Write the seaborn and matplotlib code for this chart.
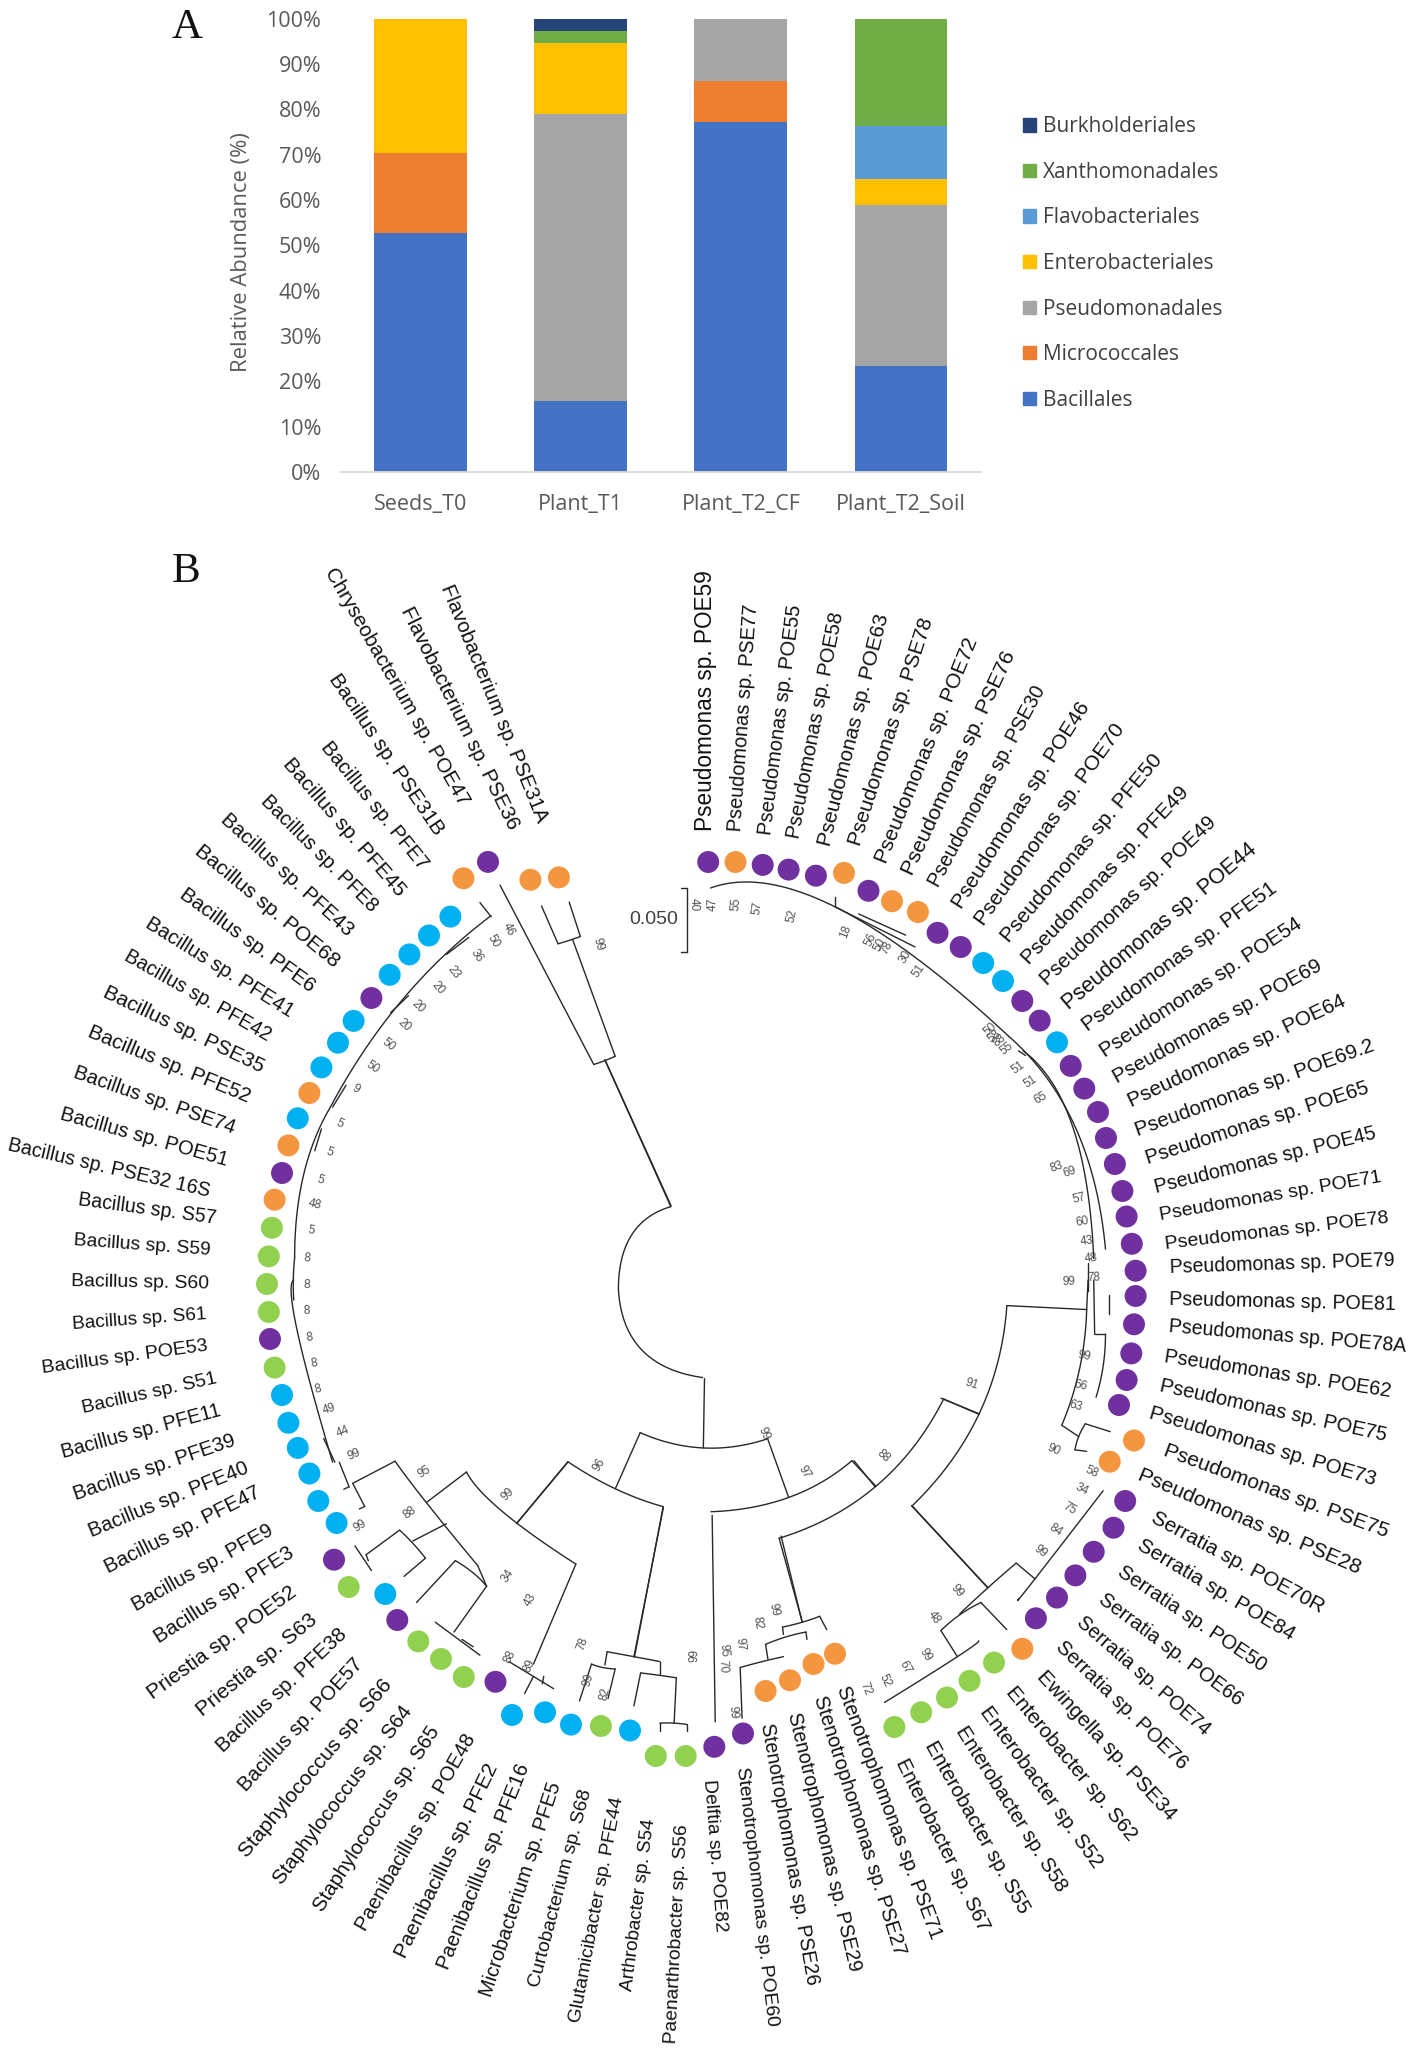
import math
import matplotlib
matplotlib.use("Agg")
import matplotlib.pyplot as plt
from matplotlib.patches import Patch
from matplotlib.textpath import TextPath
from matplotlib.font_manager import FontProperties
import numpy as np
import pandas as pd
import seaborn as sns

# ---------- Panel A data ----------
samples = ["Seeds_T0", "Plant_T1", "Plant_T2_CF", "Plant_T2_Soil"]
orders = ["Bacillales", "Micrococcales", "Pseudomonadales", "Enterobacteriales",
          "Flavobacteriales", "Xanthomonadales", "Burkholderiales"]
bacillales = [52.7, 15.7, 77.2, 23.4]
micrococcales = [17.8, 0, 9.1, 0]
pseudomonadales = [0, 63.2, 13.7, 35.4]
enterobacteriales = [29.5, 15.8, 0, 5.8]
flavobacteriales = [0, 0, 0, 11.8]
xanthomonadales = [0, 2.6, 0, 23.6]
burkholderiales = [0, 2.7, 0, 0]
order_colors = ["#4472C4", "#ED7D31", "#A5A5A5", "#FFC000", "#5B9BD5", "#70AD47", "#264478"]

# ---------- Panel B data (clockwise from the top gap) ----------
taxa_a = ["Pseudomonas sp. POE59", "Pseudomonas sp. PSE77", "Pseudomonas sp. POE55", "Pseudomonas sp. POE58",
          "Pseudomonas sp. POE63", "Pseudomonas sp. PSE78", "Pseudomonas sp. POE72", "Pseudomonas sp. PSE76",
          "Pseudomonas sp. PSE30", "Pseudomonas sp. POE46", "Pseudomonas sp. POE70", "Pseudomonas sp. PFE50",
          "Pseudomonas sp. PFE49", "Pseudomonas sp. POE49", "Pseudomonas sp. POE44", "Pseudomonas sp. PFE51",
          "Pseudomonas sp. POE54", "Pseudomonas sp. POE69", "Pseudomonas sp. POE64", "Pseudomonas sp. POE69.2",
          "Pseudomonas sp. POE65", "Pseudomonas sp. POE45", "Pseudomonas sp. POE71", "Pseudomonas sp. POE78",
          "Pseudomonas sp. POE79"]
src_a = ["POE","PSE","POE","POE","POE","PSE","POE","PSE","PSE","POE","POE","PFE","PFE","POE","POE","PFE",
         "POE","POE","POE","POE","POE","POE","POE","POE","POE"]
tip_x_a = [708.2,735.5,762.7,788.6,815.9,844,868.5,892,917.9,937.6,960.7,983.2,1003,1022.3,1039.7,1057,
           1070.7,1084.3,1098,1106,1114.9,1122.4,1126.6,1131.8,1135.6]
tip_y_a = [862,862,864.9,869.6,875.7,872.9,890.8,901.2,912,932.8,947,963,981,1001,1020.6,1042.3,
           1065.9,1088.6,1112,1138,1164,1191,1216.5,1243.8,1270.7]
# label inner / outer ends, measured in crop A frame
lab_a = [(55,575,55,30),(118,575,152,100),(182,583,245,100),(242,590,335,115),(307,605,430,120),(372,605,525,130),
         (427,640,620,170),(483,665,700,200),(540,690,765,275),(590,735,860,310),(637,770,935,355),(690,805,1015,420),
         (733,850,1070,490),(773,895,1130,555),(820,945,1220,610),(860,990,1260,695),(897,1045,1315,770),(925,1100,1360,860),
         (955,1150,1410,935),(970,1210,1470,1030),(992,1270,1460,1120),(1010,1330,1475,1215),(1020,1390,1485,1310),
         (1032,1450,1500,1395),(1042,1500,1515,1485)]

taxa_b = ["Pseudomonas sp. POE81","Pseudomonas sp. POE78A","Pseudomonas sp. POE62","Pseudomonas sp. POE75",
          "Pseudomonas sp. POE73","Pseudomonas sp. PSE75","Pseudomonas sp. PSE28","Serratia sp. POE70R",
          "Serratia sp. POE84","Serratia sp. POE50","Serratia sp. POE66","Serratia sp. POE74","Serratia sp. POE76",
          "Ewingella sp. PSE34","Enterobacter sp. S62","Enterobacter sp. S52","Enterobacter sp. S58",
          "Enterobacter sp. S55","Enterobacter sp. S67","Stenotrophomonas sp. PSE71","Stenotrophomonas sp. PSE27",
          "Stenotrophomonas sp. PSE29","Stenotrophomonas sp. PSE26","Stenotrophomonas sp. POE60","Delftia sp. POE82"]
src_b = ["POE","POE","POE","POE","POE","PSE","PSE","POE","POE","POE","POE","POE","POE","PSE",
         "S","S","S","S","S","PSE","PSE","PSE","PSE","POE","POE"]
tip_x_b = [1135.6,1134,1131.3,1126.6,1119,1134,1109.7,1125.2,1113.5,1093.7,1075.4,1057,1035.9,1022.3,994,969.6,947,
           921.2,894.4,835,813.5,790,765.6,743,714.3]
tip_y_b = [1296,1324.3,1353.4,1380,1405,1440.5,1461.7,1501,1527.7,1551.8,1575.4,1597.6,1618.3,1648.8,1662.6,1680.8,
           1697.5,1712.3,1727,1653.7,1664,1680.3,1691,1733.5,1746.8]
lab_b = [(1040,40,1515,50),(1040,95,1540,135),(1030,155,1505,225),(1020,215,1495,315),(1000,270,1475,405),
         (1030,345,1500,510),(975,395,1440,585),(1005,480,1365,665),(975,535,1300,720),(935,590,1240,785),
         (895,645,1190,855),(850,690,1120,915),(805,740,1070,985),(765,800,1045,1090),(700,830,960,1130),
         (645,870,885,1185),(595,910,810,1235),(530,940,730,1280),(470,975,645,1315),(345,825,545,1335),
         (295,845,465,1365),(240,880,370,1400),(183,900,280,1425),(130,990,195,1515),(60,1015,85,1320)]

taxa_c = ["Paenarthrobacter sp. S56","Arthrobacter sp. S54","Glutamicibacter sp. PFE44","Curtobacterium sp. S68",
          "Microbacterium sp. PFE5","Paenibacillus sp. PFE16","Paenibacillus sp. PFE2","Paenibacillus sp. POE48",
          "Staphylococcus sp. S65","Staphylococcus sp. S64","Staphylococcus sp. S66","Bacillus sp. POE57",
          "Bacillus sp. PFE38","Priestia sp. S63","Priestia sp. POE52","Bacillus sp. PFE3","Bacillus sp. PFE9",
          "Bacillus sp. PFE47","Bacillus sp. PFE40","Bacillus sp. PFE39","Bacillus sp. PFE11","Bacillus sp. S51",
          "Bacillus sp. POE53","Bacillus sp. S61"]
src_c = ["S","S","PFE","S","PFE","PFE","PFE","POE","S","S","S","POE","PFE","S","POE","PFE","PFE","PFE","PFE",
         "PFE","PFE","S","POE","S"]
tip_x_c = [685.7,655.8,630,600.9,571,545,512,495.5,463.8,441,418.3,397.3,385.3,348.7,334,336.6,318.3,309.4,297.8,
           288.4,282,274.6,270,268.8]
tip_y_c = [1756,1756,1730.5,1726,1724.6,1712.3,1715,1681.8,1677,1659,1641.4,1620,1594,1587,1559.7,1523,1501,1473.5,
           1447.9,1422.8,1395,1367.6,1339,1312]
lab_c = [(1530,1105,1505,1545),(1455,1095,1405,1445),(1385,1050,1290,1505),(1315,1035,1200,1430),(1245,1020,1090,1450),
         (1175,985,995,1395),(1105,985,900,1370),(1055,925,810,1315),(975,910,715,1275),(915,870,625,1220),
         (870,815,545,1165),(805,775,545,1030),(770,715,495,950),(705,685,450,875),(660,630,340,840),(655,550,355,725),
         (610,505,305,660),(580,430,240,585),(555,380,205,510),(525,325,170,435),(495,265,145,350),(485,200,190,260),
         (465,135,100,180),(462,70,165,90)]

taxa_d = ["Bacillus sp. S60","Bacillus sp. S59","Bacillus sp. S57","Bacillus sp. PSE32 16S","Bacillus sp. POE51",
          "Bacillus sp. PSE74","Bacillus sp. PFE52","Bacillus sp. PSE35","Bacillus sp. PFE42","Bacillus sp. PFE41",
          "Bacillus sp. PFE6","Bacillus sp. POE68","Bacillus sp. PFE43","Bacillus sp. PFE8","Bacillus sp. PFE45",
          "Bacillus sp. PFE7","Bacillus sp. PSE31B","Chryseobacterium sp. POE47","Flavobacterium sp. PSE36",
          "Flavobacterium sp. PSE31A"]
src_d = ["S","S","S","PSE","POE","PSE","PFE","PSE","PFE","PFE","PFE","POE","PFE","PFE","PFE","PFE","PSE","POE","PSE","PSE"]
tip_x_d = [267,268.8,271.9,274.6,282,288.4,297.8,309.4,321.4,338,353.6,371.4,389.7,409.4,429,450.4,463.4,488,530.4,558.9]
tip_y_d = [1284,1256.4,1227.8,1199.7,1173,1145.4,1118.3,1093,1067.4,1042.7,1020.9,998,974.8,954.4,935.5,916.6,878.3,
           861.9,879.8,877.4]
lab_d = [(468,1535,165,1530),(472,1465,172,1445),(485,1400,182,1362),(470,1345,25,1250),(510,1280,142,1185),
         (525,1215,170,1100),(560,1150,205,1015),(590,1090,240,935),(605,1025,290,860),(655,975,335,790),(700,925,410,730),
         (755,875,445,640),(785,810,505,575),(840,760,595,535),(900,730,645,460),(950,675,730,425),(985,605,750,285),
         (1040,545,740,65),(1150,595,910,145),(1215,580,1000,95)]

source_colors = {"POE": "#7030A0", "PSE": "#F4953F", "PFE": "#00B0F0", "S": "#92D050"}

# crop frames: origin x, origin y, scale x, scale y
F2 = (680, 560, 2.127, 2.119)
F3 = (0, 540, 2.24, 2.063)
F4 = (680, 1280, 2.127, 2.031)
F5 = (0, 1280, 2.24, 2.031)
F6 = (450, 1000, 2.613, 1.96)

def px(f, x, y):
    return f[0] + x / f[2], f[1] + y / f[3]

# bootstrap values
boot2 = [("40",30,730),("47",70,730),("55",120,730),("57",165,738),("52",238,755),("18",352,787),("56",405,805),
         ("50",425,815),("78",440,822),("30",480,840),("51",507,870),("50",660,995),("58",668,1010),("88",680,1018),
         ("55",695,1035),("51",720,1075),("51",745,1105),("65",768,1140),("83",800,1287),("69",828,1297),("57",848,1352),
         ("60",855,1402),("43",865,1443),("48",875,1480),("99",828,1530),("78",880,1520)]
boot4 = [("99",860,155),("66",852,215),("63",842,255),("90",795,345),("58",875,390),("34",855,425),("75",828,465),
         ("84",800,508),("99",767,552),("99",590,632),("48",540,685),("99",523,762),("67",480,787),("52",435,813),
         ("72",395,830),("99",200,670),("82",165,697),("97",128,740),("95",93,752),("70",90,785),("99",32,762),
         ("99",113,878),("91",620,212),("88",432,358),("97",265,390),("99",178,312)]
boot3 = [("46",1140,803),("50",1105,827),("36",1067,857),("23",1017,892),("20",980,925),("20",937,962),("20",905,1000),
         ("50",870,1042),("50",835,1087),("9",797,1133),("5",760,1205),("5",738,1263),("5",718,1320),("48",705,1370),
         ("5",698,1425),("8",688,1482),("8",688,1537),("99",1340,835)]
boot5 = [("8",687,62),("8",692,117),("8",703,170),("8",712,222),("49",738,263),("44",768,308),("99",793,355),
         ("99",807,500),("95",950,390),("99",1137,435),("96",1343,375),("88",918,473),("34",1138,600),("43",1187,650),
         ("78",1305,738),("99",1318,812),("82",1355,840),("88",1143,765),("89",1187,783)]

# tree geometry: straight branches and arcs (start, mid, end) in crop frames
lines6 = [(577,405,405,118),(665,742,662,878),(830,860,885,975),(685,1010,693,1415),(1050,903,1113,953),
          (1290,782,1382,812),(860,1055,920,1218),(1207,992,1405,1152),(497,848,432,958),(557,993,482,1288),
          (308,905,175,1025)]
arcs6 = [(577,405,475,460,440,565),(440,565,500,685,660,740),(497,848,662,878,830,860),(682,1003,885,975,1050,903),
         (860,1055,1113,953,1290,782),(1207,992,1382,812,1455,600),(308,905,432,958,557,993)]
lines3 = [(1503,1373,1355,1072),(1330,1082,1120,712),(1378,1065,1283,825),(1250,833,1213,755),
          (1300,818,1275,747),(1525,718,1538,718),(1538,718,1538,850),(1538,850,1525,850),(1100,777,1075,748),
          (1000,855,1050,820),(875,975,915,940),(745,1170,775,1125),(705,1260,720,1215)]
arcs3 = [(1250,833,1275,826,1300,818),(1330,1082,1355,1074,1378,1065),(1100,775,900,950,740,1170),
         (740,1170,680,1310,660,1480),(660,1480,657,1525,658,1568)]
lines5 = [(1486,462,1420,765),(1272,370,1157,495),(1290,577,1195,780),(1045,390,955,452),(885,368,790,413),
          (1070,580,1090,622),(1020,570,933,655),(1090,622,1017,715),(1000,495,925,530),(895,508,820,558),
          (953,565,905,602),(795,540,832,590),(820,558,825,570),(725,322,750,370),(760,370,782,420),(770,425,782,420),
          (790,413,817,460),(805,465,817,460),
          (1360,755,1355,782),(1325,780,1298,855),(1378,790,1362,850),(1478,775,1478,800),(1435,798,1420,865),
          (1515,808,1510,900),(1478,900,1478,915),(1540,903,1540,915),(1195,805,1175,840),(1218,805,1215,820),
          (975,695,1075,762),(1035,730,1060,745),(1140,775,1240,830)]
arcs5 = [(1045,390,1125,470,1290,577),(885,368,955,452,1070,580),(1020,570,1060,595,1090,622),(895,508,925,535,953,565),
         (1360,755,1420,765,1478,775),(1325,780,1350,787,1378,790),(1435,798,1478,803,1515,808),(1478,900,1510,900,1540,903),
         (658,0,665,100,745,370)]
lines4 = [(695,52,865,60),(555,240,637,272),(370,367,415,420),(493,458,655,625),(715,575,755,607),(640,655,695,710),
          (555,712,590,765),(215,520,260,695),(297,683,312,710),(218,705,220,720),(268,715,270,730),(182,740,187,770),
          (128,787,132,890),(812,295,848,318),(862,292,915,308),(840,345,865,348),(865,60,868,0),(880,0,882,110),
          (882,110,905,110),(912,30,912,70)]
arcs4 = [(595,678,655,625,715,575),(720,648,755,607,900,428),(555,712,595,680,640,655),(435,858,590,765,635,733),
         (218,705,260,695,297,683),(182,740,225,725,268,715),(128,787,175,775,220,765),(865,60,850,180,812,295),
         (862,292,848,318,840,345),(905,110,900,175,885,238)]
arcs2 = [(65,695,330,735,700,1010),(700,1010,840,1200,905,1460),(730,1040,835,1200,880,1480)]
lines2 = [(330,715,330,735),(380,750,480,795),(720,1040,735,1050),(868,1490,868,1550),(330,735,500,820)]

# ---------- Figure ----------
sns.set_theme(style="white")
plt.rcParams["font.family"] = ["Open Sans", "DejaVu Sans"]
W, H = 1417, 2052
fig = plt.figure(figsize=(W / 100, H / 100), dpi=100, facecolor="white")

# Panel A
ax_left, ax_right, ax_top, ax_bot = 340.7, 981, 18.9, 471.8
ax = fig.add_axes([ax_left / W, 1 - ax_bot / H, (ax_right - ax_left) / W, (ax_bot - ax_top) / H])
df = pd.DataFrame(dict(zip(orders, [bacillales, micrococcales, pseudomonadales, enterobacteriales,
                                    flavobacteriales, xanthomonadales, burkholderiales])), index=samples)
bottom = np.zeros(len(samples))
for name, col in zip(orders, order_colors):
    sns.barplot(x=samples, y=df[name].values, bottom=bottom, color=col, width=0.58,
                saturation=1, ax=ax, linewidth=0)
    bottom += df[name].values
ax.set_xlim(-0.5, 3.5)
ax.set_ylim(0, 100)
ax.set_yticks(range(0, 101, 10))
ax.set_yticklabels([f"{v}%" for v in range(0, 101, 10)], fontsize=15.5, color="#595959")
ax.tick_params(axis="x", length=0, pad=16, labelsize=15.5, labelcolor="#595959")
ax.tick_params(axis="y", length=0, pad=14)
for s in ["top", "left", "right"]:
    ax.spines[s].set_visible(False)
ax.spines["bottom"].set_color("#D9D9D9")
ax.spines["bottom"].set_linewidth(1.3)
ax.set_ylabel("Relative Abundance (%)", fontsize=15.8, color="#595959")
ax.yaxis.set_label_coords((252.5 - ax_left) / (ax_right - ax_left), 0.485)
handles = [Patch(color=c, label=n) for n, c in zip(orders[::-1], order_colors[::-1])]
ax.legend(handles=handles, loc="center left", frameon=False, fontsize=15, labelcolor="#404040",
          bbox_to_anchor=((1023 - ax_left) / (ax_right - ax_left), 1 - (263.5 - ax_top) / (ax_bot - ax_top)),
          labelspacing=1.18, handlelength=0.6, handleheight=0.6, handletextpad=0.36, borderpad=0, borderaxespad=0)

# Panel B on a full-figure pixel axes
tr = fig.add_axes([0, 0, 1, 1], facecolor="none")
tr.set_xlim(0, W)
tr.set_ylim(H, 0)
tr.axis("off")
LC = "#282828"
LW = 1.0

def draw_line(f, seg):
    x1, y1 = px(f, seg[0], seg[1])
    x2, y2 = px(f, seg[2], seg[3])
    tr.plot([x1, x2], [y1, y2], color=LC, lw=LW, solid_capstyle="round")

def draw_arc(f, a):
    p0 = np.array(px(f, a[0], a[1]))
    m = np.array(px(f, a[2], a[3]))
    p2 = np.array(px(f, a[4], a[5]))
    c = 2 * m - (p0 + p2) / 2
    t = np.linspace(0, 1, 40)[:, None]
    pts = (1 - t) ** 2 * p0 + 2 * t * (1 - t) * c + t ** 2 * p2
    tr.plot(pts[:, 0], pts[:, 1], color=LC, lw=LW)

for f, ls, ar in [(F6, lines6, arcs6), (F3, lines3, arcs3), (F5, lines5, arcs5), (F4, lines4, arcs4), (F2, lines2, arcs2)]:
    for s in ls:
        draw_line(f, s)
    for a in ar:
        draw_arc(f, a)

CX, CY = 702, 1295
for f, items in [(F2, boot2), (F4, boot4), (F3, boot3), (F5, boot5)]:
    for txt, x, y in items:
        xx, yy = px(f, x, y)
        ang = math.degrees(math.atan2(-(yy - CY), xx - CX))
        rot = ang if xx >= CX else ang - 180
        tr.text(xx, yy, txt, fontsize=8.5, color="#505050", family="Liberation Sans",
                rotation=rot, ha="center", va="center", rotation_mode="anchor")
tx, ty = px(F3, 1465, 783)
tr.text(tx, ty, "0.050", fontsize=14, color="#404040", family="Liberation Sans", ha="center", va="center")

tips = pd.DataFrame({
    "taxon": taxa_a + taxa_b + taxa_c + taxa_d,
    "source": src_a + src_b + src_c + src_d,
    "x": tip_x_a + tip_x_b + tip_x_c + tip_x_d,
    "y": tip_y_a + tip_y_b + tip_y_c + tip_y_d,
})
sns.scatterplot(data=tips, x="x", y="y", hue="source", palette=source_colors, s=250, linewidth=0,
                legend=False, ax=tr, zorder=3)
tr.set_xlim(0, W)
tr.set_ylim(H, 0)
tr.axis("off")

fp = FontProperties(family="Liberation Sans")
for f, names, labs in [(F2, taxa_a, lab_a), (F4, taxa_b, lab_b), (F5, taxa_c, lab_c), (F3, taxa_d, lab_d)]:
    for name, l in zip(names, labs):
        x1, y1 = px(f, l[0], l[1])
        x2, y2 = px(f, l[2], l[3])
        length = math.hypot(x2 - x1, y2 - y1)
        unit = TextPath((0, 0), name, size=1, prop=fp).get_extents().width
        size = length / unit * 72 / 100
        size = min(max(size, 13), 16.5)
        ang = math.degrees(math.atan2(-(y2 - y1), x2 - x1))
        if x2 >= x1:
            rot, ha = ang, "left"
        else:
            rot, ha = ang - 180 if ang > 0 else ang + 180, "right"
        tr.text(x1, y1, name, fontsize=size, color="#111111", family="Liberation Sans", rotation=rot,
                ha=ha, va="center", rotation_mode="anchor")

for letter, (x, y) in {"A": (187, 27.5), "B": (186, 571.5)}.items():
    tr.text(x, y, letter, fontsize=31, family="Liberation Serif", color="#111111", ha="center", va="center")

fig.savefig("out.png", dpi=100, facecolor="white")
